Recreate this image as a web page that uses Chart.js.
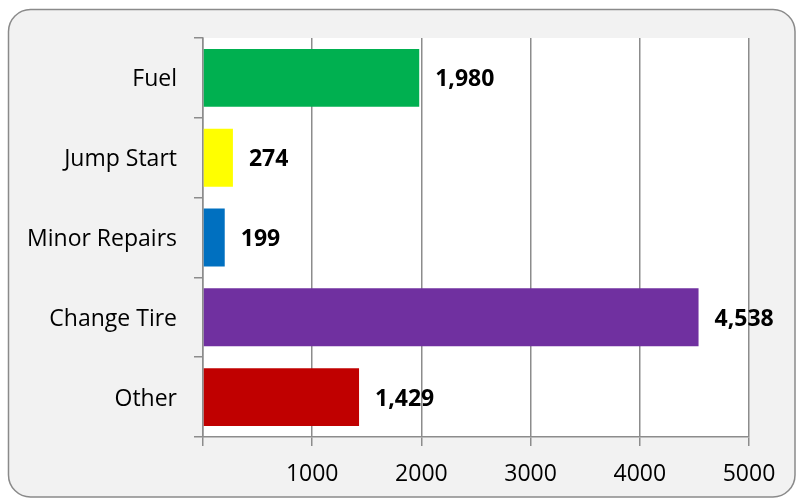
<!DOCTYPE html>
<html>
<head>
<meta charset="utf-8">
<script src="https://cdn.jsdelivr.net/npm/chart.js@4"></script>
<style>
html,body{margin:0;padding:0;background:#ffffff;}
canvas{display:block;}
</style>
</head>
<body>
<canvas id="c" width="796" height="499"></canvas>
<script>
const categories = ["Fuel", "Jump Start", "Minor Repairs", "Change Tire", "Other"];
const values = [1980, 274, 199, 4538, 1429];
const barColors = ["#00b050", "#ffff00", "#0070c0", "#7030a0", "#c00000"];
const xTicks = [0, 1000, 2000, 3000, 4000, 5000];

const FONT = "'Open Sans', 'Noto Sans', sans-serif";

const bgPlugin = {
  id: 'bg',
  beforeDraw(chart) {
    const ctx = chart.ctx;
    ctx.save();
    const x = 8.5, y = 9.5, w = 795 - 8.5, h = 497 - 9.5, r = 22;
    ctx.beginPath();
    ctx.moveTo(x + r, y);
    ctx.lineTo(x + w - r, y);
    ctx.arcTo(x + w, y, x + w, y + r, r);
    ctx.lineTo(x + w, y + h - r);
    ctx.arcTo(x + w, y + h, x + w - r, y + h, r);
    ctx.lineTo(x + r, y + h);
    ctx.arcTo(x, y + h, x, y + h - r, r);
    ctx.lineTo(x, y + r);
    ctx.arcTo(x, y, x + r, y, r);
    ctx.closePath();
    ctx.fillStyle = '#f2f2f2';
    ctx.fill();
    ctx.lineWidth = 1.5;
    ctx.strokeStyle = '#8a8a8a';
    ctx.stroke();
    const a = chart.chartArea;
    ctx.fillStyle = '#ffffff';
    ctx.fillRect(a.left, a.top, a.right - a.left, a.bottom - a.top);
    ctx.restore();
  }
};

const labelPlugin = {
  id: 'vlabels',
  afterDatasetsDraw(chart) {
    const ctx = chart.ctx;
    ctx.save();
    ctx.font = "bold 23px " + FONT;
    ctx.fillStyle = '#000000';
    ctx.textAlign = 'left';
    ctx.textBaseline = 'middle';
    const meta = chart.getDatasetMeta(0);
    meta.data.forEach((bar, i) => {
      ctx.fillText(values[i].toLocaleString('en-US'), bar.x + 16, bar.y + 2);
    });
    ctx.restore();
  }
};

new Chart(document.getElementById('c'), {
  type: 'bar',
  data: {
    labels: categories,
    datasets: [{
      data: values,
      backgroundColor: barColors,
      borderWidth: 0,
      barPercentage: 0.725,
      categoryPercentage: 1
    }]
  },
  options: {
    indexAxis: 'y',
    responsive: false,
    animation: false,
    devicePixelRatio: 1,
    layout: { padding: { left: 0, top: 38, right: 47, bottom: 0 } },
    plugins: { legend: { display: false }, tooltip: { enabled: false } },
    scales: {
      x: {
        min: 0,
        max: 5000,
        afterBuildTicks(scale) { scale.ticks = xTicks.map(v => ({ value: v })); },
        afterFit(scale) { scale.height = 62; },
        ticks: {
          color: '#000000',
          font: { family: FONT, size: 23 },
          padding: 15,
          maxRotation: 0,
          callback: (v) => v === 0 ? '' : String(v)
        },
        grid: { color: '#8c8c8c', lineWidth: 1.5, tickLength: 9, drawOnChartArea: true },
        border: { color: '#8c8c8c', width: 1.5 }
      },
      y: {
        afterFit(scale) { scale.width = 203; },
        ticks: {
          color: '#000000',
          font: { family: FONT, size: 23 },
          padding: 17,
          labelOffset: 2
        },
        grid: { color: '#8c8c8c', lineWidth: 1.5, tickLength: 9, drawOnChartArea: false, offset: true },
        border: { color: '#8c8c8c', width: 1.5 }
      }
    }
  },
  plugins: [bgPlugin, labelPlugin]
});
</script>
</body>
</html>
